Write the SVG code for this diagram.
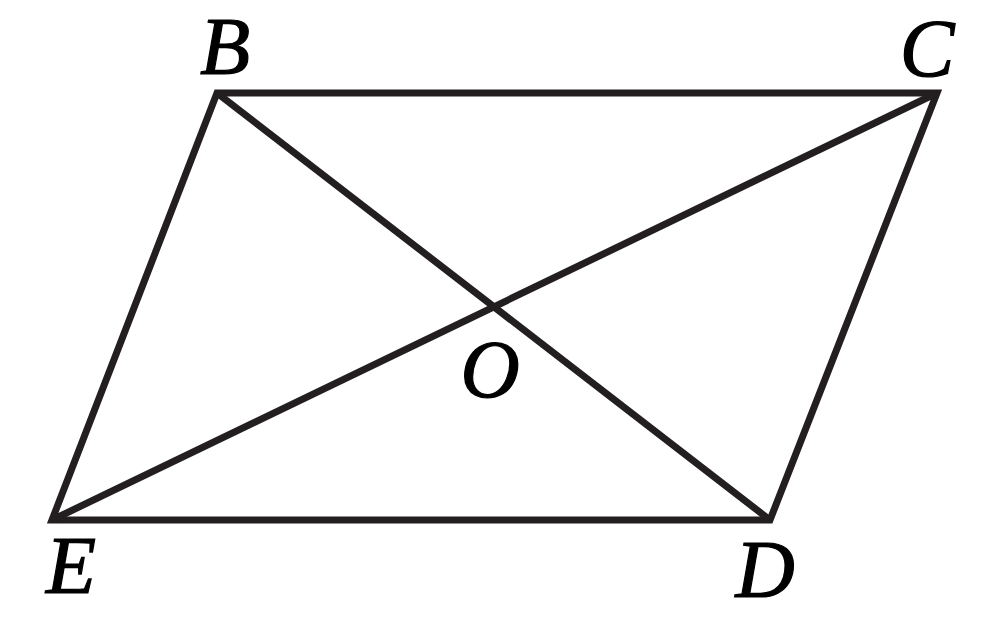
<svg xmlns="http://www.w3.org/2000/svg" width="986" height="627" viewBox="0 0 986 627">
<style>
.edge{fill:none;stroke:#231f20;stroke-width:7;stroke-linejoin:miter;stroke-linecap:butt}
.lbl{font-family:"Liberation Serif","Times New Roman",serif;font-style:italic;font-size:82px;fill:#000;stroke:#000;stroke-width:1.2;text-anchor:middle}
</style>
<rect width="986" height="627" fill="#fff"/>
<g id="connectors">
<polygon class="edge" points="217,93 937,93 770,520 52,520"/>
<line class="edge" x1="217" y1="93" x2="770" y2="520"/>
<line class="edge" x1="937" y1="93" x2="52" y2="520"/>
</g>
<g id="node-B"><text class="lbl" x="225" y="74">B</text></g>
<g id="node-C"><text class="lbl" x="927" y="76">C</text></g>
<g id="node-D"><text class="lbl" x="765" y="597">D</text></g>
<g id="node-E"><text class="lbl" x="71" y="593">E</text></g>
<g id="node-O"><text class="lbl" x="490" y="397">O</text></g>
</svg>
